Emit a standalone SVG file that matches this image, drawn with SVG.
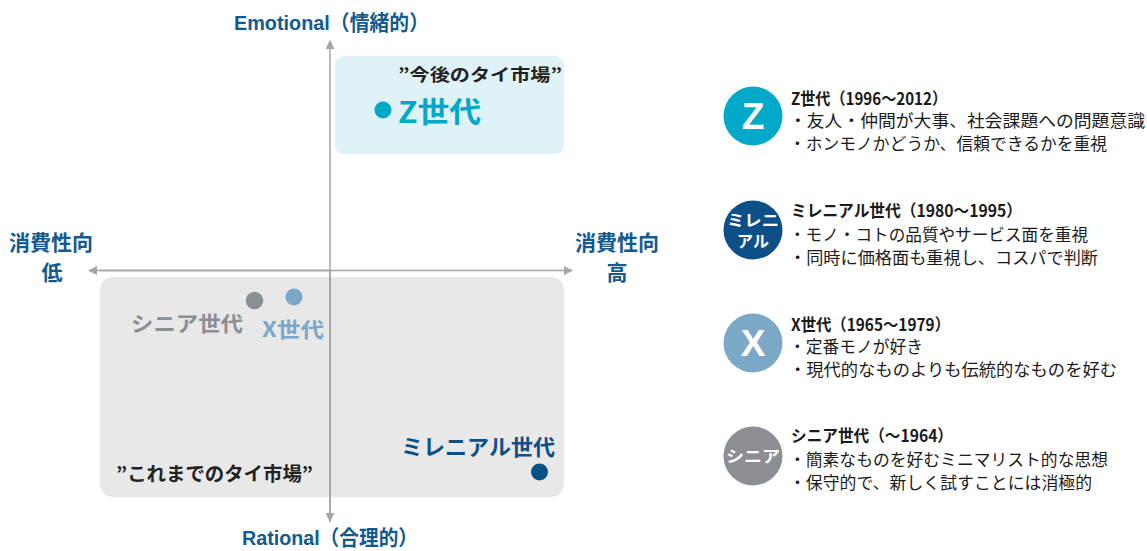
<svg xmlns="http://www.w3.org/2000/svg" width="1147" height="551" viewBox="0 0 1147 551">
<defs>
<style>
text{font-family:"Liberation Sans","Noto Sans CJK JP",sans-serif;}
.ax{font-weight:bold;fill:#135a8f;font-size:21px;}
.axj{font-family:"Noto Sans CJK JP",sans-serif;font-weight:bold;fill:#135a8f;font-size:21px;text-anchor:middle;}
.q{font-family:"Noto Sans CJK JP",sans-serif;font-weight:bold;fill:#222;}
.lbl{font-family:"Noto Sans CJK JP",sans-serif;font-weight:bold;}
.hd{font-family:"Noto Sans CJK JP",sans-serif;font-weight:bold;font-size:16.5px;fill:#1a1a1a;}
.bd{font-family:"Noto Sans CJK JP",sans-serif;font-size:16.5px;fill:#1a1a1a;}
.ci{font-weight:bold;fill:#fff;text-anchor:middle;}
.axis{stroke:#a3a5a8;stroke-width:1.5;fill:none;}
</style>
<marker id="ah" viewBox="0 0 10 10" refX="9" refY="5" markerWidth="9" markerHeight="9" markerUnits="userSpaceOnUse" orient="auto">
<path d="M0,0 L10,5 L0,10 z" fill="#a3a5a8"/>
</marker>
</defs>
<g id="regions">
<rect id="future-market" x="335" y="56" width="229" height="98" rx="9" fill="#dff2f7"/>
<rect id="past-market" x="100" y="277" width="464" height="220" rx="13" fill="#e8e8e8"/>
</g>
<g id="connectors">
<line class="axis" x1="330" y1="522" x2="330" y2="41" marker-end="url(#ah)"/>
<line class="axis" x1="330" y1="270.5" x2="330" y2="521" marker-end="url(#ah)"/>
<line class="axis" x1="100" y1="270.5" x2="572" y2="270.5" marker-end="url(#ah)"/>
<line class="axis" x1="330" y1="270.5" x2="89" y2="270.5" marker-end="url(#ah)"/>
</g>
<g id="axis-labels">
<text class="ax" x="234" y="30" textLength="195" lengthAdjust="spacingAndGlyphs">Emotional（情緒的）</text>
<text class="ax" x="242" y="545" textLength="176" lengthAdjust="spacingAndGlyphs">Rational（合理的）</text>
<text class="axj" x="51" y="250">消費性向</text>
<text class="axj" x="52" y="280">低</text>
<text class="axj" x="617" y="250">消費性向</text>
<text class="axj" x="617" y="280">高</text>
</g>
<g id="market-labels">
<text class="q" x="398" y="81" font-size="17" textLength="164" lengthAdjust="spacingAndGlyphs">”今後のタイ市場”</text>
<text class="q" x="116" y="481" font-size="19" textLength="197" lengthAdjust="spacingAndGlyphs">”これまでのタイ市場”</text>
</g>
<g id="gen-z-point">
<circle cx="383" cy="110" r="8.5" fill="#00a9c8"/>
<text class="lbl" x="398" y="123" font-size="29" fill="#00a9c8" textLength="83" lengthAdjust="spacingAndGlyphs">Z世代</text>
</g>
<g id="senior-point">
<circle cx="254.5" cy="300.5" r="8.7" fill="#8b8e93"/>
<text class="lbl" x="131" y="331" font-size="21" fill="#8b8e93" textLength="112" lengthAdjust="spacingAndGlyphs">シニア世代</text>
</g>
<g id="gen-x-point">
<circle cx="294" cy="297" r="8.5" fill="#7ba8c6"/>
<text class="lbl" x="262" y="337" font-size="21" fill="#7ba8c6" textLength="62" lengthAdjust="spacingAndGlyphs">X世代</text>
</g>
<g id="millennial-point">
<circle cx="539.5" cy="472" r="8.5" fill="#0d4f87"/>
<text class="lbl" x="401" y="455" font-size="22" fill="#0d4f87" textLength="154" lengthAdjust="spacingAndGlyphs">ミレニアル世代</text>
</g>
<g id="legend-z">
<circle cx="753" cy="116" r="29.5" fill="#00a9c8"/>
<text class="ci" x="753" y="129" font-size="37">Z</text>
<text class="hd" x="791" y="105" textLength="156" lengthAdjust="spacingAndGlyphs">Z世代（1996～2012）</text>
<text class="bd" x="789" y="127" textLength="356" lengthAdjust="spacingAndGlyphs">・友人・仲間が大事、社会課題への問題意識</text>
<text class="bd" x="789" y="150" textLength="318" lengthAdjust="spacingAndGlyphs">・ホンモノかどうか、信頼できるかを重視</text>
</g>
<g id="legend-millennial">
<circle cx="753" cy="230" r="29.5" fill="#0d4f87"/>
<text class="ci" x="753" y="226" font-size="16" font-family="Noto Sans CJK JP, sans-serif" textLength="52" lengthAdjust="spacingAndGlyphs">ミレニ</text>
<text class="ci" x="753" y="247" font-size="16" font-family="Noto Sans CJK JP, sans-serif">アル</text>
<text class="hd" x="791" y="217" textLength="231" lengthAdjust="spacingAndGlyphs">ミレニアル世代（1980～1995）</text>
<text class="bd" x="789" y="241" textLength="299" lengthAdjust="spacingAndGlyphs">・モノ・コトの品質やサービス面を重視</text>
<text class="bd" x="789" y="264" textLength="309" lengthAdjust="spacingAndGlyphs">・同時に価格面も重視し、コスパで判断</text>
</g>
<g id="legend-x">
<circle cx="753" cy="343" r="29.5" fill="#7ba8c6"/>
<text class="ci" x="753" y="356" font-size="37">X</text>
<text class="hd" x="791" y="331" textLength="159" lengthAdjust="spacingAndGlyphs">X世代（1965～1979）</text>
<text class="bd" x="789" y="353" textLength="134" lengthAdjust="spacingAndGlyphs">・定番モノが好き</text>
<text class="bd" x="789" y="376" textLength="328" lengthAdjust="spacingAndGlyphs">・現代的なものよりも伝統的なものを好む</text>
</g>
<g id="legend-senior">
<circle cx="753" cy="456" r="29.5" fill="#8b8e93"/>
<text class="ci" x="753" y="462" font-size="16" font-family="Noto Sans CJK JP, sans-serif" textLength="54" lengthAdjust="spacingAndGlyphs">シニア</text>
<text class="hd" x="791" y="442" textLength="162" lengthAdjust="spacingAndGlyphs">シニア世代（～1964）</text>
<text class="bd" x="789" y="466" textLength="319" lengthAdjust="spacingAndGlyphs">・簡素なものを好むミニマリスト的な思想</text>
<text class="bd" x="789" y="489" textLength="303" lengthAdjust="spacingAndGlyphs">・保守的で、新しく試すことには消極的</text>
</g>
</svg>
